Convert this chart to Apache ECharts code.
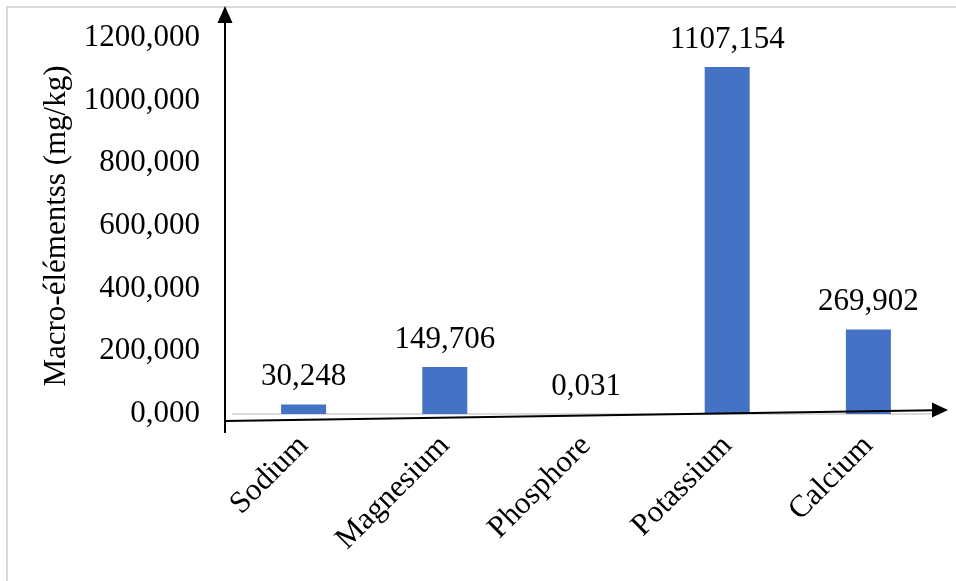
<!DOCTYPE html>
<html>
<head>
<meta charset="utf-8">
<script src="https://cdn.jsdelivr.net/npm/echarts@6/dist/echarts.min.js"></script>
<style>
  html, body { margin: 0; padding: 0; background: #fff; }
  #chart { width: 956px; height: 581px; }
</style>
</head>
<body>
<div id="chart"></div>
<script>
// Macro-element content per element (mg/kg)
const categories = ['Sodium', 'Magnesium', 'Phosphore', 'Potassium', 'Calcium'];
const values = [30.248, 149.706, 0.031, 1107.154, 269.902];
const yTicks = { min: 0, max: 1200, interval: 200 };
const yTitle = 'Macro-élémentss (mg/kg)';

const FONT = 'Liberation Serif';
const FS = 31;
const fmt = v => Number(v).toFixed(3).replace('.', ',');

const chart = echarts.init(document.getElementById('chart'), null, { renderer: 'canvas' });

chart.setOption({
  backgroundColor: '#ffffff',
  animation: false,
  grid: { left: 233, right: 17, top: 38, bottom: 167, containLabel: false },
  xAxis: {
    type: 'category',
    data: categories,
    axisLine: { show: true, lineStyle: { color: '#d9d9d9', width: 2 } },
    axisTick: { show: false },
    axisLabel: {
      rotate: 45,
      margin: 27,
      fontFamily: FONT,
      fontSize: FS,
      color: '#000'
    }
  },
  yAxis: {
    type: 'value',
    min: yTicks.min,
    max: yTicks.max,
    interval: yTicks.interval,
    name: yTitle,
    nameLocation: 'middle',
    nameRotate: 90,
    nameGap: 146,
    nameTextStyle: { fontFamily: FONT, fontSize: FS, color: '#000' },
    axisLine: { show: false },
    axisTick: { show: false },
    splitLine: { show: false },
    axisLabel: {
      margin: 33,
      fontFamily: FONT,
      fontSize: FS,
      color: '#000',
      formatter: fmt
    }
  },
  series: [{
    type: 'bar',
    data: values,
    barWidth: 45,
    itemStyle: { color: '#4472c4' },
    label: {
      show: true,
      position: 'top',
      distance: 12,
      fontFamily: FONT,
      fontSize: FS,
      color: '#000',
      formatter: p => fmt(p.value)
    }
  }],
  graphic: [
    // light frame around the chart area
    {
      type: 'rect', z: 0, silent: true,
      shape: { x: 7, y: 7, width: 1000, height: 1000 },
      style: { fill: 'none', stroke: '#d9d9d9', lineWidth: 2 }
    },
    // vertical axis with arrowhead
    {
      type: 'line', z: 100, silent: true,
      shape: { x1: 225, y1: 433, x2: 225, y2: 20 },
      style: { stroke: '#000', lineWidth: 2 }
    },
    {
      type: 'polygon', z: 100, silent: true,
      shape: { points: [[225, 6], [217.5, 23], [232.5, 23]] },
      style: { fill: '#000' }
    },
    // horizontal axis with arrowhead (slightly tilted)
    {
      type: 'line', z: 100, silent: true,
      shape: { x1: 225, y1: 421, x2: 934, y2: 410.3 },
      style: { stroke: '#000', lineWidth: 2 }
    },
    {
      type: 'polygon', z: 100, silent: true,
      shape: { points: [[948, 410], [932, 402.5], [932, 417.5]] },
      style: { fill: '#000' }
    }
  ]
});
</script>
</body>
</html>
